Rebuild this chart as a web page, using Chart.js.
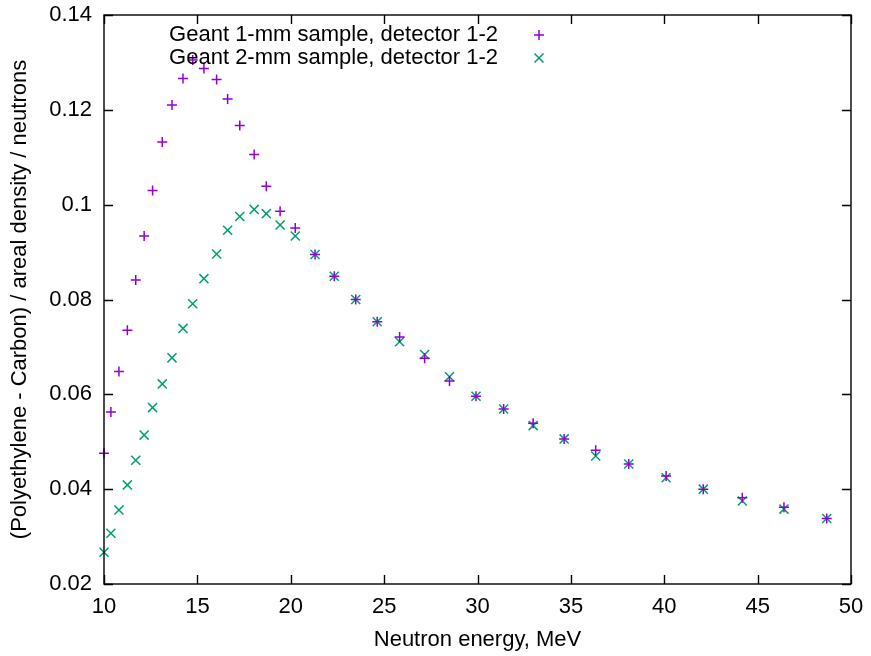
<!DOCTYPE html>
<html>
<head>
<meta charset="utf-8">
<script src="https://cdn.jsdelivr.net/npm/chart.js@4/dist/chart.umd.min.js"></script>
<style>
html,body{margin:0;padding:0;background:#fff;}
#wrap{width:871px;height:656px;}
</style>
</head>
<body>
<div id="wrap"><canvas id="c" width="871" height="656"></canvas></div>
<script>
const energies = [10.0, 10.37, 10.8, 11.25, 11.7, 12.15, 12.6, 13.12, 13.64, 14.23, 14.75, 15.35, 16.03, 16.62, 17.27, 18.04, 18.69, 19.43, 20.24, 21.3, 22.33, 23.48, 24.63, 25.83, 27.17, 28.5, 29.92, 31.4, 32.98, 34.64, 36.33, 38.1, 40.1, 42.09, 44.18, 46.41, 48.7];
const sample1mm = [0.0476, 0.0563, 0.0648, 0.0735, 0.0841, 0.0934, 0.1030, 0.1132, 0.1210, 0.1266, 0.1305, 0.1287, 0.1264, 0.1223, 0.1167, 0.1106, 0.1039, 0.0986, 0.0951, 0.0895, 0.0849, 0.0800, 0.0753, 0.0721, 0.0676, 0.0628, 0.0596, 0.0569, 0.0539, 0.0506, 0.0482, 0.0453, 0.0428, 0.0400, 0.0382, 0.0362, 0.0338];
const sample2mm = [0.0267, 0.0307, 0.0356, 0.0409, 0.0461, 0.0514, 0.0572, 0.0622, 0.0677, 0.0739, 0.0791, 0.0844, 0.0896, 0.0946, 0.0975, 0.0990, 0.0981, 0.0957, 0.0934, 0.0895, 0.0849, 0.0800, 0.0753, 0.0711, 0.0684, 0.0637, 0.0596, 0.0569, 0.0534, 0.0506, 0.0470, 0.0453, 0.0424, 0.0400, 0.0375, 0.0358, 0.0338];
const seriesLabels = ["Geant 1-mm sample, detector 1-2", "Geant 2-mm sample, detector 1-2"];
const xTicks = [10, 15, 20, 25, 30, 35, 40, 45, 50];
const yTicks = [0.02, 0.04, 0.06, 0.08, 0.1, 0.12, 0.14];
const xTitle = "Neutron energy, MeV";
const yTitle = "(Polyethylene - Carbon) / areal density / neutrons";

const colors = ["#9400D3", "#009E73"];
const FONT = "'Liberation Sans', Arial, Helvetica, sans-serif";
const FS = 22;

function pts(xs, ys){ return xs.map((x,i)=>({x:x, y:ys[i]})); }

const framePlugin = {
  id: 'frame',
  afterDraw(chart){
    const ctx = chart.ctx, a = chart.chartArea;
    const xs = chart.scales.x, ys = chart.scales.y;
    ctx.save();
    ctx.strokeStyle = '#000';
    ctx.lineWidth = 1.4;
    ctx.strokeRect(a.left, a.top, a.right - a.left, a.bottom - a.top);
    const L = 9;
    ctx.beginPath();
    xTicks.forEach(v=>{
      const px = Math.round(xs.getPixelForValue(v)) + 0.5;
      ctx.moveTo(px, a.bottom); ctx.lineTo(px, a.bottom - L);
      ctx.moveTo(px, a.top); ctx.lineTo(px, a.top + L);
    });
    yTicks.forEach(v=>{
      const py = Math.round(ys.getPixelForValue(v)) + 0.5;
      ctx.moveTo(a.left, py); ctx.lineTo(a.left + L, py);
      ctx.moveTo(a.right, py); ctx.lineTo(a.right - L, py);
    });
    ctx.stroke();
    // legend
    ctx.font = FS + "px " + FONT;
    ctx.fillStyle = '#000';
    ctx.textAlign = 'right';
    ctx.textBaseline = 'middle';
    const textRight = 498, markX = 539, rows = [35, 58];
    seriesLabels.forEach((t,i)=>{
      ctx.fillText(t, textRight, rows[i]);
      const ds = chart.data.datasets[i];
      ctx.strokeStyle = colors[i];
      ctx.lineWidth = 1.5;
      Chart.helpers.drawPoint(ctx, {pointStyle: ds.pointStyle, radius: ds.pointRadius, borderWidth: 1.5}, markX, rows[i]);
    });
    ctx.restore();
  }
};

new Chart(document.getElementById('c'), {
  type: 'scatter',
  data: {
    datasets: [
      { label: seriesLabels[0], data: pts(energies, sample1mm), pointStyle: 'cross', pointRadius: 5, pointBorderWidth: 1.5,
        borderColor: colors[0], backgroundColor: colors[0], clip: false },
      { label: seriesLabels[1], data: pts(energies, sample2mm), pointStyle: 'crossRot', pointRadius: 6.4, pointBorderWidth: 1.5,
        borderColor: colors[1], backgroundColor: colors[1], clip: false }
    ]
  },
  options: {
    responsive: false,
    animation: false,
    events: [],
    layout: { padding: { left: 0, right: 20, top: 15, bottom: 0 } },
    plugins: { legend: { display: false }, tooltip: { enabled: false } },
    scales: {
      x: {
        type: 'linear', min: 10, max: 50,
        afterBuildTicks: s => { s.ticks = xTicks.map(v=>({value:v})); },
        afterFit: s => { s.height = 72; s.paddingLeft = 0; s.paddingRight = 0; },
        grid: { display: false, drawTicks: false },
        border: { display: false },
        ticks: { color: '#000', font: { family: FONT, size: FS }, padding: 10, maxRotation: 0, autoSkip: false },
        title: { display: true, text: xTitle, color: '#000', font: { family: FONT, size: FS }, padding: { top: 0, bottom: 3 } }
      },
      y: {
        type: 'linear', min: 0.02, max: 0.14,
        afterBuildTicks: s => { s.ticks = yTicks.map(v=>({value:v})); },
        afterFit: s => { s.width = 104; s.paddingTop = 0; s.paddingBottom = 0; },
        grid: { display: false, drawTicks: false },
        border: { display: false },
        ticks: { color: '#000', font: { family: FONT, size: FS }, padding: 12, autoSkip: false,
                 callback: v => String(Math.round(v*100)/100) },
        title: { display: true, text: yTitle, color: '#000', font: { family: FONT, size: FS }, padding: { top: 7, bottom: 0 } }
      }
    }
  },
  plugins: [framePlugin]
});
</script>
</body>
</html>
